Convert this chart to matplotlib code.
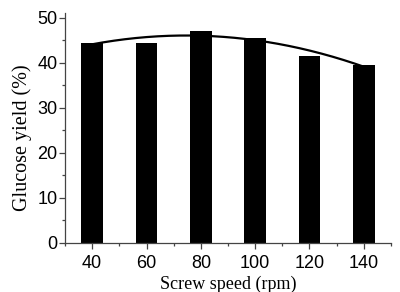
import numpy as np
import matplotlib.pyplot as plt
from matplotlib.ticker import MultipleLocator

# screw speed (rpm) and glucose yield (%)
speed = [40, 60, 80, 100, 120, 140]
glucose = [44.5, 44.5, 47.2, 45.5, 41.6, 39.6]

# quadratic trend through the bars
coef = np.polyfit(speed, glucose, 2)
xs = np.linspace(speed[0], speed[-1], 200)
ys = np.polyval(coef, xs)

fig = plt.figure(figsize=(4.0, 2.92), dpi=100)
ax = fig.add_axes([0.1625, 0.168, 0.815, 0.786])

ax.plot(xs, ys, color='black', lw=1.6, zorder=1)
ax.bar(speed, glucose, width=8, color='black', zorder=2)

ax.set_xlim(30, 150)
ax.set_ylim(0, 51)
ax.xaxis.set_major_locator(MultipleLocator(20))
ax.xaxis.set_minor_locator(MultipleLocator(10))
ax.yaxis.set_major_locator(MultipleLocator(10))
ax.yaxis.set_minor_locator(MultipleLocator(5))

for s in ['top', 'right']:
    ax.spines[s].set_visible(False)
for s in ['left', 'bottom']:
    ax.spines[s].set_color('#444444')
    ax.spines[s].set_linewidth(0.9)

ax.tick_params(which='major', direction='out', length=4, width=0.9, color='#444444',
               labelsize=13)
ax.tick_params(axis='x', which='major', pad=4.5)
ax.tick_params(axis='y', which='major', pad=1.5)
ax.tick_params(which='minor', direction='out', length=2.5, width=0.9, color='#444444')
for lab in ax.get_xticklabels() + ax.get_yticklabels():
    lab.set_family('Liberation Sans')

ax.set_xlabel('Screw speed (rpm)', family='Liberation Serif', fontsize=13, labelpad=3)
ax.set_ylabel('Glucose yield (%)', family='Liberation Serif', fontsize=14.5)
ax.yaxis.set_label_coords(-0.10, 0.457)

fig.savefig('out.png', dpi=100)
